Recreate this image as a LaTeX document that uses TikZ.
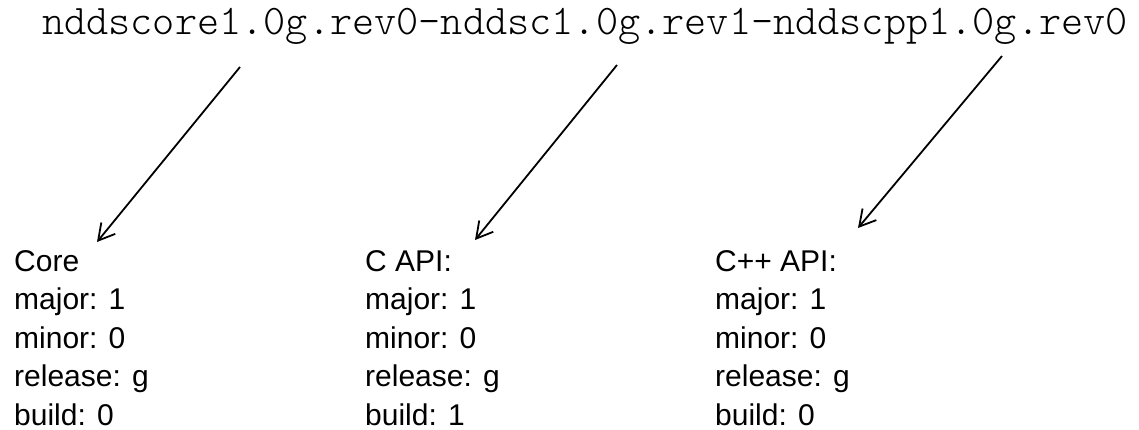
\documentclass[tikz,border=0pt]{standalone}
\usepackage{fontspec}
\setmainfont{Liberation Sans}
\newfontfamily\namefont{lmmonolt10-regular.otf}
\usetikzlibrary{arrows.meta}

\begin{document}
\begin{tikzpicture}[x=1pt,y=-1pt,
  pkg/.style={font=\namefont\fontsize{42.2}{42.2}\selectfont,inner sep=0pt,anchor=base west},
  part/.style={font=\fontsize{30}{38.6}\selectfont,align=left,inner sep=0pt,anchor=north west},
  pointer/.style={line width=1.8pt,-{Straight Barb[length=16pt,width=18pt]}}]
  \useasboundingbox (0,0) rectangle (1139,430);

  % the package name
  \node[pkg] (name) at (42,35) {nddscore1.0g.rev0-nddsc1.0g.rev1-nddscpp1.0g.rev0};

  % the three parts it is built from
  \node[part] (core)   at (14,250)  {Core\\major: 1\\minor: 0\\release: g\\build: 0};
  \node[part] (capi)   at (365,250) {C API:\\major: 1\\minor: 0\\release: g\\build: 1};
  \node[part] (cppapi) at (715,250) {C++ API:\\major: 1\\minor: 0\\release: g\\build: 0};

  % pointers from the name down to each part
  \coordinate (core-from)   at (240,67);
  \coordinate (core-to)     at (97,242);
  \coordinate (capi-from)   at (617,65);
  \coordinate (capi-to)     at (475,240);
  \coordinate (cppapi-from) at (1002,56);
  \coordinate (cppapi-to)   at (858,228);
  \draw[pointer] (core-from) -- (core-to);
  \draw[pointer] (capi-from) -- (capi-to);
  \draw[pointer] (cppapi-from) -- (cppapi-to);
\end{tikzpicture}
\end{document}
